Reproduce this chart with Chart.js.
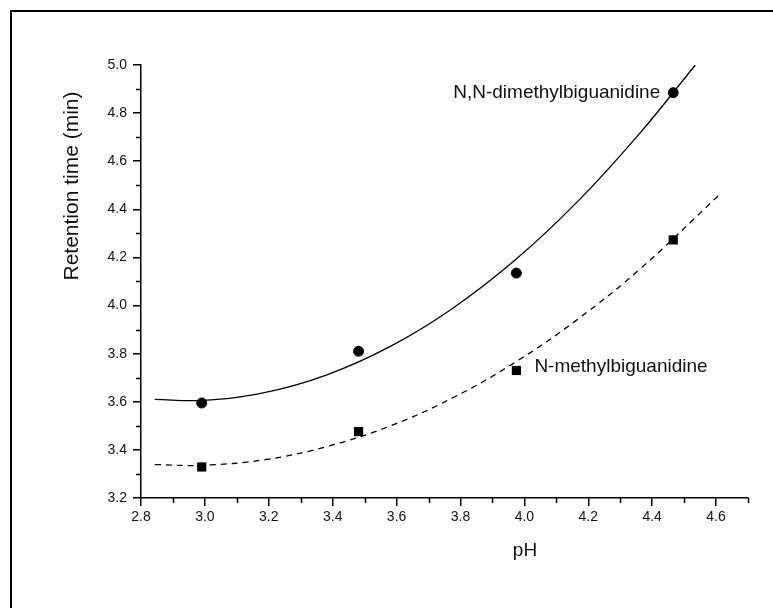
<!DOCTYPE html>
<html>
<head>
<meta charset="utf-8">
<script src="https://cdn.jsdelivr.net/npm/chart.js@4/dist/chart.umd.min.js"></script>
<style>
  html, body { margin: 0; padding: 0; background: #fff; }
  #wrap { width: 773px; height: 608px; position: relative; }
</style>
</head>
<body>
<div id="wrap"><canvas id="chart" width="773" height="608"></canvas></div>
<script>
// measured points (pH vs retention time, min), positions as they sit in the picture
const phValues = [2.99, 3.481, 3.975, 4.466];
const dimethylTimes = [3.595, 3.81, 4.135, 4.885];
const methylTimes = [3.329, 3.476, 3.73, 4.273];

// fitted curves
const dimethylFitX = [2.843, 2.99, 3.186, 3.382, 3.579, 3.775, 3.971, 4.167, 4.363, 4.535];
const dimethylFitY = [3.61, 3.606, 3.638, 3.712, 3.829, 3.988, 4.189, 4.433, 4.719, 5.0];
const methylFitX = [2.843, 2.99, 3.186, 3.382, 3.579, 3.775, 3.971, 4.167, 4.363, 4.609];
const methylFitY = [3.339, 3.336, 3.359, 3.414, 3.499, 3.616, 3.764, 3.943, 4.153, 4.459];

const labelFont = '"Liberation Sans", Arial, sans-serif';

function toXY(xs, ys) {
    return xs.map((x, i) => ({ x: x, y: ys[i] }));
}

// frame, minor ticks, axis titles and curve labels
const extras = {
    id: 'extras',
    afterDraw(chart) {
        const ctx = chart.ctx;
        const xs = chart.scales.x;
        const ys = chart.scales.y;
        ctx.save();

        // outer frame (only top and left edges are in view)
        ctx.strokeStyle = '#000';
        ctx.lineWidth = 2;
        ctx.beginPath();
        ctx.moveTo(773, 11);
        ctx.lineTo(11, 11);
        ctx.lineTo(11, 608);
        ctx.stroke();

        // minor ticks
        ctx.lineWidth = 1.5;
        ctx.beginPath();
        for (let v = 2.9; v < 4.71; v += 0.2) {
            const px = Math.round(xs.getPixelForValue(v)) + 0.5;
            ctx.moveTo(px, xs.top);
            ctx.lineTo(px, xs.top + 5);
        }
        for (let v = 3.3; v < 5.0; v += 0.2) {
            const py = Math.round(ys.getPixelForValue(v)) + 0.5;
            ctx.moveTo(ys.right, py);
            ctx.lineTo(ys.right - 5, py);
        }
        ctx.stroke();

        // axis titles
        ctx.fillStyle = '#111';
        ctx.textAlign = 'center';
        ctx.textBaseline = 'middle';
        ctx.font = '19px ' + labelFont;
        ctx.fillText('pH', 525, 551);
        ctx.save();
        ctx.translate(72, 186);
        ctx.rotate(-Math.PI / 2);
        ctx.font = '21px ' + labelFont;
        ctx.fillText('Retention time (min)', 0, 0);
        ctx.restore();

        // curve labels next to their last points
        ctx.font = '19px ' + labelFont;
        const p1x = xs.getPixelForValue(phValues[3]);
        const p1y = ys.getPixelForValue(dimethylTimes[3]);
        ctx.textAlign = 'right';
        ctx.fillText('N,N-dimethylbiguanidine', p1x - 13, p1y);
        const p2x = xs.getPixelForValue(phValues[2]);
        const p2y = ys.getPixelForValue(methylTimes[2]);
        ctx.textAlign = 'left';
        ctx.fillText('N-methylbiguanidine', p2x + 18, p2y - 4);

        ctx.restore();
    }
};

const ctx = document.getElementById('chart').getContext('2d');
new Chart(ctx, {
    type: 'scatter',
    data: {
        datasets: [
            {
                label: 'N,N-dimethylbiguanidine fit',
                data: toXY(dimethylFitX, dimethylFitY),
                showLine: true,
                borderColor: '#000',
                borderWidth: 1.3,
                pointRadius: 0,
                tension: 0.4,
                fill: false
            },
            {
                label: 'N-methylbiguanidine fit',
                data: toXY(methylFitX, methylFitY),
                showLine: true,
                borderColor: '#000',
                borderWidth: 1.3,
                borderDash: [6, 5],
                pointRadius: 0,
                tension: 0.4,
                fill: false
            },
            {
                label: 'N,N-dimethylbiguanidine',
                data: toXY(phValues, dimethylTimes),
                pointStyle: 'circle',
                pointRadius: 5,
                backgroundColor: '#000',
                borderColor: '#000',
                borderWidth: 1
            },
            {
                label: 'N-methylbiguanidine',
                data: toXY(phValues, methylTimes),
                pointStyle: 'rect',
                pointRadius: 6.5,
                backgroundColor: '#000',
                borderColor: '#000',
                borderWidth: 0
            }
        ]
    },
    options: {
        responsive: false,
        animation: false,
        events: [],
        layout: { padding: { top: 65, right: 25, left: 0, bottom: 0 } },
        plugins: {
            legend: { display: false },
            tooltip: { enabled: false }
        },
        scales: {
            x: {
                type: 'linear',
                min: 2.8,
                max: 4.7,
                afterFit(s) { s.height = 110; },
                border: { color: '#000', width: 1.5 },
                grid: { drawOnChartArea: false, drawTicks: true, tickLength: 8, color: '#000', lineWidth: 1.5 },
                ticks: {
                    stepSize: 0.2,
                    color: '#111',
                    padding: 3,
                    font: { family: labelFont, size: 14 },
                    callback: (v) => v.toFixed(1)
                },
                afterBuildTicks(s) {
                    s.ticks = [2.8, 3.0, 3.2, 3.4, 3.6, 3.8, 4.0, 4.2, 4.4, 4.6].map(v => ({ value: v }));
                }
            },
            y: {
                type: 'linear',
                min: 3.2,
                max: 5.0,
                afterFit(s) { s.width = 141; },
                border: { color: '#000', width: 1.5 },
                grid: { drawOnChartArea: false, drawTicks: true, tickLength: 8, color: '#000', lineWidth: 1.5 },
                ticks: {
                    stepSize: 0.2,
                    color: '#111',
                    padding: 6,
                    font: { family: labelFont, size: 14 },
                    callback: (v) => v.toFixed(1)
                }
            }
        }
    },
    plugins: [extras]
});
</script>
</body>
</html>
